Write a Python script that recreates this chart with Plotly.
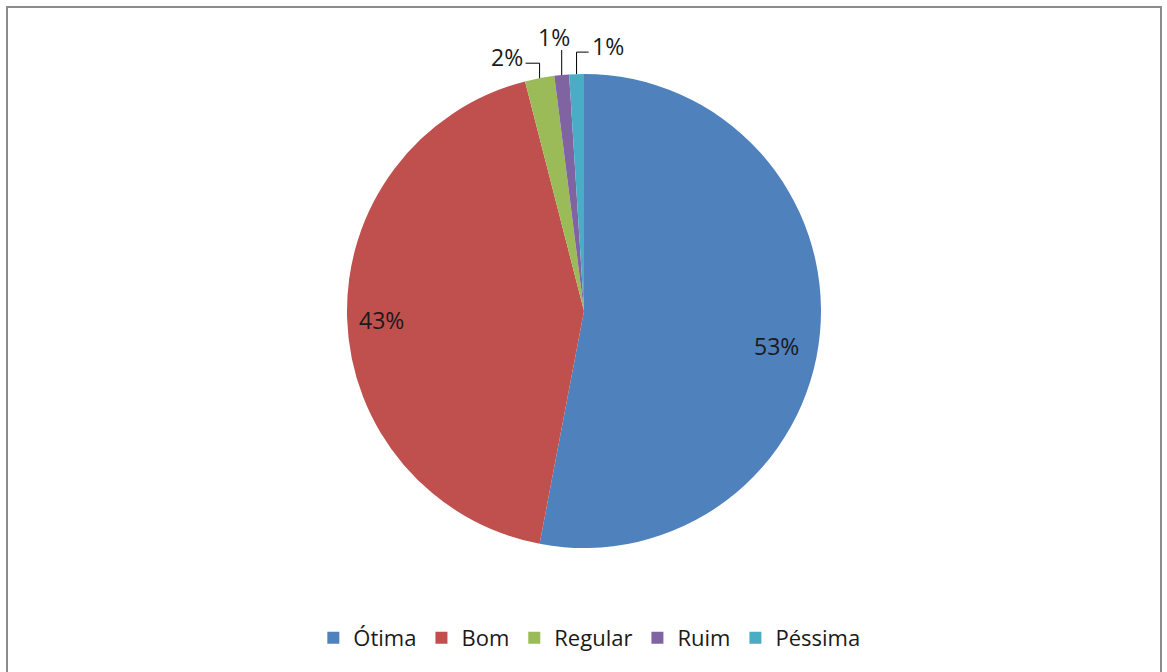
import math
import plotly.graph_objects as go

# Survey answers and their shares (%)
labels = ["Ótima", "Bom", "Regular", "Ruim", "Péssima"]
values = [53, 43, 2, 1, 1]
colors = ["#4F81BD", "#C0504D", "#9BBB59", "#8064A2", "#4BACC6"]

W, H = 1167, 672
CX, CY, R = 584, 311, 237          # pie centre and radius in pixels
FONT = "'Open Sans', Lato, sans-serif"
TEXT_COLOR = "#1a1a1a"
FONT_SIZE = 23


def px(x):
    return x / W


def py(y):
    return 1 - y / H


fig = go.Figure(
    go.Pie(
        labels=labels,
        values=values,
        marker=dict(colors=colors, line=dict(width=0)),
        sort=False,
        direction="clockwise",
        rotation=0,
        textinfo="none",
        hoverinfo="label+percent",
        domain=dict(x=[px(CX - R), px(CX + R)], y=[py(CY + R), py(CY - R)]),
    )
)

# Slice mid-angles (clockwise from 12 o'clock)
total = sum(values)
mids = []
acc = 0
for v in values:
    mids.append((acc + v / 2) / total * 2 * math.pi)
    acc += v


def polar(theta, r):
    return CX + r * math.sin(theta), CY - r * math.cos(theta)


annotations = []
shapes = []

# Large slices: labels inside, near the rim (small pixel nudges for placement)
inside = {0: (-6, 16), 1: (-4, 3)}
for i, (dx, dy) in inside.items():
    x, y = polar(mids[i], 0.84 * R)
    annotations.append(dict(
        x=px(x + dx), y=py(y + dy), xref="paper", yref="paper",
        xanchor="center", yanchor="middle",
        text=f"{values[i] / total * 100:.0f}%", showarrow=False,
        font=dict(family=FONT, size=FONT_SIZE, color=TEXT_COLOR),
    ))

# Small slices: labels above the pie with leader lines
leader = {
    2: dict(rise=15, run=-14, anchor="right"),
    3: dict(rise=25, run=0, anchor="center"),
    4: dict(rise=22, run=12, anchor="left"),
}
for i, cfg in leader.items():
    x0, y0 = polar(mids[i], R)
    y1 = y0 - cfg["rise"]
    x1 = x0 + cfg["run"]
    line = dict(color="#000000", width=1)
    shapes.append(dict(type="line", xref="paper", yref="paper",
                       x0=px(x0), y0=py(y0), x1=px(x0), y1=py(y1), line=line))
    if cfg["run"]:
        shapes.append(dict(type="line", xref="paper", yref="paper",
                           x0=px(x0), y0=py(y1), x1=px(x1), y1=py(y1), line=line))
        tx = x1 + (1 if cfg["run"] > 0 else -1)
        ty = y1 - 6
    else:
        tx, ty = x0 - 8, y1 - 13
    annotations.append(dict(
        x=px(tx), y=py(ty), xref="paper", yref="paper",
        xanchor=cfg["anchor"], yanchor="middle",
        text=f"{values[i] / total * 100:.0f}%", showarrow=False,
        font=dict(family=FONT, size=FONT_SIZE, color=TEXT_COLOR),
    ))

# Chart-area frame
shapes.append(dict(type="rect", xref="paper", yref="paper",
                   x0=px(7), x1=px(1161), y0=py(H + 10), y1=py(7),
                   line=dict(color="#8c8c8c", width=2), layer="above"))

fig.update_layout(
    width=W, height=H,
    margin=dict(l=0, r=0, t=0, b=0),
    paper_bgcolor="white",
    plot_bgcolor="white",
    showlegend=True,
    legend=dict(
        orientation="h",
        x=0.505, xanchor="center",
        y=py(638), yanchor="middle",
        font=dict(family=FONT, size=FONT_SIZE - 1, color=TEXT_COLOR),
        itemwidth=30,
        traceorder="normal",
    ),
    annotations=annotations,
    shapes=shapes,
)

fig.write_html("out.html")
